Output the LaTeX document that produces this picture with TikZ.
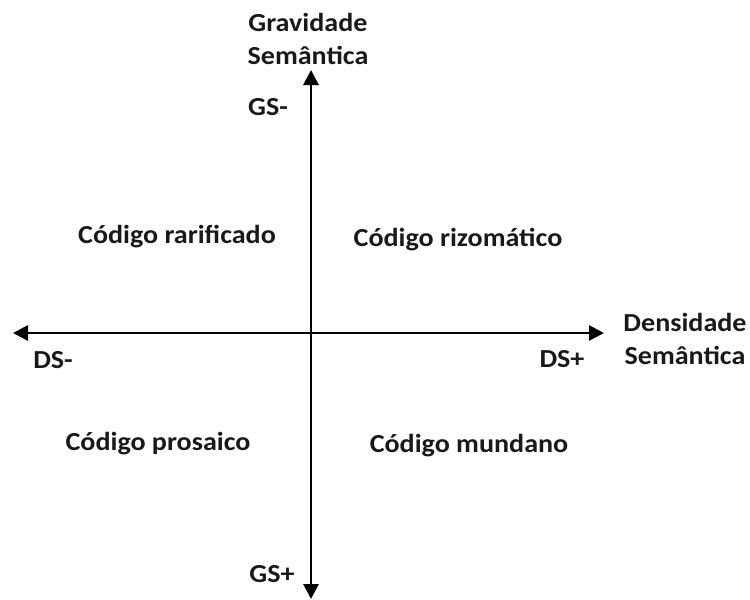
\documentclass[tikz,border=0pt]{standalone}
\usepackage{fontspec}
\setmainfont{Carlito}[FakeStretch=1.08]
\usetikzlibrary{arrows.meta}
\begin{document}
\begin{tikzpicture}[x=1pt,y=-1pt,
  lbl/.style={font=\fontsize{26}{33}\selectfont\bfseries, text=black!90, inner sep=0pt, align=center},
  axis/.style={line width=2.8pt, -{Triangle[length=15pt,width=15pt]}}]
\useasboundingbox (0,0) rectangle (750,600);
\coordinate (o) at (311,333);
\coordinate (top) at (311,70);
\coordinate (bot) at (311,599);
\coordinate (left) at (13,333);
\coordinate (right) at (604,333);
\draw[axis] (o) -- (top);
\draw[axis] (o) -- (bot);
\draw[axis] (o) -- (left);
\draw[axis] (o) -- (right);
\node[lbl] (gs) at (308,39) {Gravidade\\Semântica};
\node[lbl] (gsm) at (268,107) {GS-};
\node[lbl] (gsp) at (272,574) {GS+};
\node[lbl] (dsm) at (53,360) {DS-};
\node[lbl] (dsp) at (562,359) {DS+};
\node[lbl] (ds) at (685,339) {Densidade\\Semântica};
\node[lbl] (q1) at (177,237) {Código rarificado};
\node[lbl] (q2) at (458,240) {Código rizomático};
\node[lbl] (q3) at (158,444) {Código prosaico};
\node[lbl] (q4) at (469,446) {Código mundano};
\end{tikzpicture}
\end{document}
